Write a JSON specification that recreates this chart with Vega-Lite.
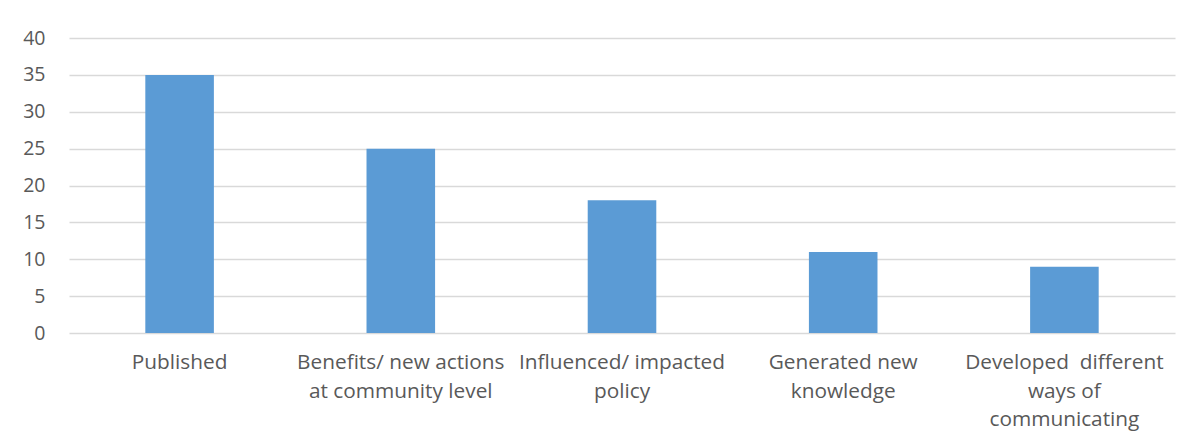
{
  "$schema": "https://vega.github.io/schema/vega-lite/v6.json",
  "autosize": {"type": "none"},
  "width": 1106,
  "height": 295,
  "padding": {"left": 69, "top": 38, "right": 28, "bottom": 115},
  "background": "white",
  "config": {
    "view": {"stroke": null},
    "font": "Open Sans"
  },
  "data": {
    "values": [
      {"category": "Published", "value": 35},
      {"category": "Benefits/ new actions|at community level", "value": 25},
      {"category": "Influenced/ impacted|policy", "value": 18},
      {"category": "Generated new|knowledge", "value": 11},
      {"category": "Developed\u00a0 different|ways of|communicating", "value": 9}
    ]
  },
  "mark": {"type": "bar", "color": "#5B9BD5"},
  "encoding": {
    "x": {
      "field": "category",
      "type": "nominal",
      "sort": null,
      "scale": {"paddingInner": 0.69, "paddingOuter": 0.345},
      "axis": {
        "title": null,
        "labelAngle": 0,
        "labelExpr": "split(datum.label, '|')",
        "labelFont": "Open Sans",
        "labelFontSize": 20.8,
        "labelColor": "#595959",
        "labelLineHeight": 28.7,
        "labelPadding": 19.5,
        "labelLimit": 300,
        "ticks": false,
        "domain": false,
        "labelBaseline": "top"
      }
    },
    "y": {
      "field": "value",
      "type": "quantitative",
      "scale": {"domain": [0, 40], "nice": false},
      "axis": {
        "title": null,
        "values": [0, 5, 10, 15, 20, 25, 30, 35, 40],
        "labelFont": "Open Sans",
        "labelFontSize": 19.5,
        "labelColor": "#595959",
        "labelPadding": 24,
        "ticks": false,
        "domain": false,
        "grid": true,
        "gridColor": "#D9D9D9",
        "gridWidth": 1.3
      }
    }
  }
}
